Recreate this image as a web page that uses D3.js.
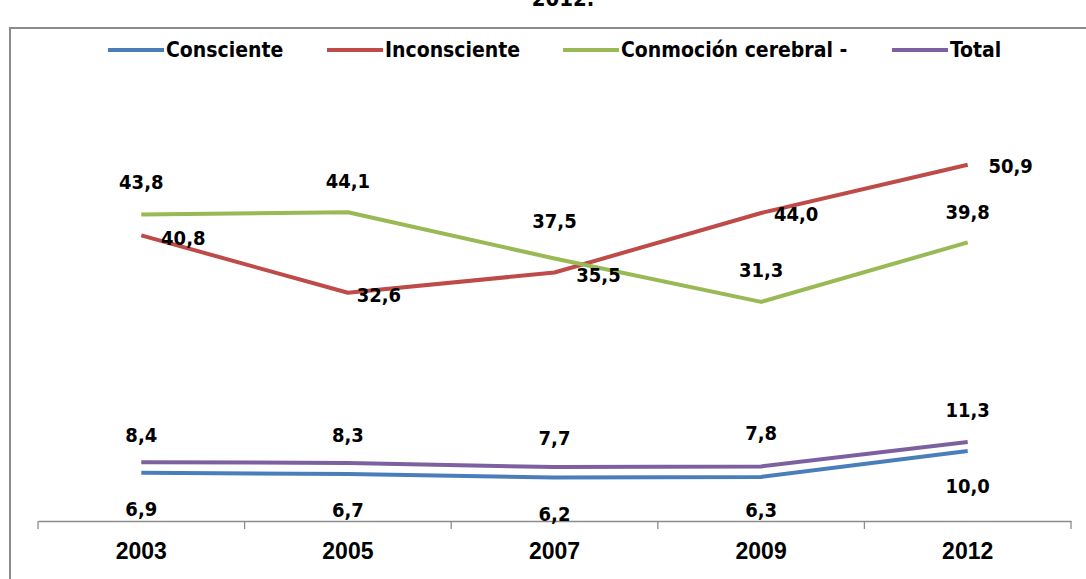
<!DOCTYPE html>
<html>
<head>
<meta charset="utf-8">
<script src="https://cdn.jsdelivr.net/npm/d3@7"></script>
<style>
  body { margin: 0; background: #fff; }
  svg { display: block; font-family: "DejaVu Sans Condensed", "Liberation Sans Narrow", Arial, sans-serif; font-weight: bold; }
</style>
</head>
<body>
<div id="chart"></div>
<script>
// Data
const YEARS = ["2003", "2005", "2007", "2009", "2012"];
const SERIES_NAMES = ["Consciente", "Inconsciente", "Conmoción cerebral -", "Total"];
const CONSCIENTE = [6.9, 6.7, 6.2, 6.3, 10.0];
const INCONSCIENTE = [40.8, 32.6, 35.5, 44.0, 50.9];
const CONMOCION = [43.8, 44.1, 37.5, 31.3, 39.8];
const TOTAL = [8.4, 8.3, 7.7, 7.8, 11.3];

const COLORS = ["#4A7EBB", "#BE4B48", "#98B954", "#7D60A0"];

// Label offsets (dx, dy) for each series, like Excel placed them
const LABEL_OFFSETS = [
  [[0, 36], [0, 36], [0, 36], [0, 33], [0, 35]],
  [[42, 3], [31, 2], [44, 2], [35, 1], [43, 1]],
  [[0, -32], [0, -31], [0, -38], [0, -32], [0, -30]],
  [[0, -27], [0, -28], [0, -29], [0, -33], [0, -32]]
];

const WIDTH = 1086, HEIGHT = 579;
const MARGINS = {left: 38, right: 15, top: 101, bottom: 58};

const svg = d3.select("#chart")
  .append("svg")
    .attr("width", WIDTH)
    .attr("height", HEIGHT);

// Outer frame (clipped by window)
svg.append("path")
  .attr("d", "M10," + HEIGHT + " L10,28 L" + (WIDTH + 5) + ",28")
  .attr("fill", "none")
  .attr("stroke", "#8c8c8c")
  .attr("stroke-width", 2);

// Title, cut off at the top like the reference
svg.append("text")
  .attr("x", 563)
  .attr("y", 6)
  .attr("text-anchor", "middle")
  .attr("font-size", "22px")
  .text("2012.");

const X_SCALE = d3.scaleBand()
  .domain(YEARS)
  .range([MARGINS.left, WIDTH - MARGINS.right]);

const Y_SCALE = d3.scaleLinear()
  .domain([0, 60])
  .range([HEIGHT - MARGINS.bottom, MARGINS.top]);

// x axis
const xAxis = svg.append("g")
  .attr("transform", "translate(0," + Y_SCALE(0) + ")")
  .call(d3.axisBottom(X_SCALE).tickSize(0).tickPadding(22));
xAxis.select(".domain").attr("stroke", "#8c8c8c").attr("stroke-width", 1.3);
xAxis.selectAll("text")
  .attr("font-size", "23px")
  .attr("font-family", "inherit")
  .attr("font-weight", "bold")
  .attr("fill", "#000");

// tick marks at band edges
const edges = YEARS.map((d) => X_SCALE(d)).concat([X_SCALE(YEARS[YEARS.length - 1]) + X_SCALE.bandwidth()]);
svg.selectAll("line.tick-edge")
  .data(edges)
  .enter()
  .append("line")
    .attr("class", "tick-edge")
    .attr("x1", (d) => d)
    .attr("x2", (d) => d)
    .attr("y1", Y_SCALE(0))
    .attr("y2", Y_SCALE(0) + 8)
    .attr("stroke", "#8c8c8c")
    .attr("stroke-width", 1.3);

const ALL = [CONSCIENTE, INCONSCIENTE, CONMOCION, TOTAL];
const cx = (i) => X_SCALE(YEARS[i]) + X_SCALE.bandwidth() / 2;

const line = d3.line()
  .x((d, i) => cx(i))
  .y((d) => Y_SCALE(d));

ALL.forEach((vals, s) => {
  svg.append("path")
    .datum(vals)
    .attr("d", line)
    .attr("fill", "none")
    .attr("stroke", COLORS[s])
    .attr("stroke-width", 4)
    .attr("stroke-linejoin", "round");
});

// data labels
ALL.forEach((vals, s) => {
  svg.selectAll(null)
    .data(vals)
    .enter()
    .append("text")
      .attr("x", (d, i) => cx(i) + LABEL_OFFSETS[s][i][0])
      .attr("y", (d, i) => Y_SCALE(d) + LABEL_OFFSETS[s][i][1])
      .attr("text-anchor", "middle")
      .attr("dominant-baseline", "central")
      .attr("font-size", "20px")
      .attr("fill", "#000")
      .text((d) => d.toFixed(1).replace(".", ","));
});

// legend
const LEGEND_X = [108, 327, 563, 892];
const legend = svg.selectAll("g.legend")
  .data(SERIES_NAMES)
  .enter()
  .append("g")
    .attr("class", "legend")
    .attr("transform", (d, i) => "translate(" + LEGEND_X[i] + ",50)");
legend.append("line")
  .attr("x1", 0).attr("x2", 56)
  .attr("y1", 0).attr("y2", 0)
  .attr("stroke", (d, i) => COLORS[i])
  .attr("stroke-width", 4);
legend.append("text")
  .attr("x", 58)
  .attr("y", 0)
  .attr("dominant-baseline", "central")
  .attr("font-size", "21px")
  .text((d) => d);
</script>
</body>
</html>
